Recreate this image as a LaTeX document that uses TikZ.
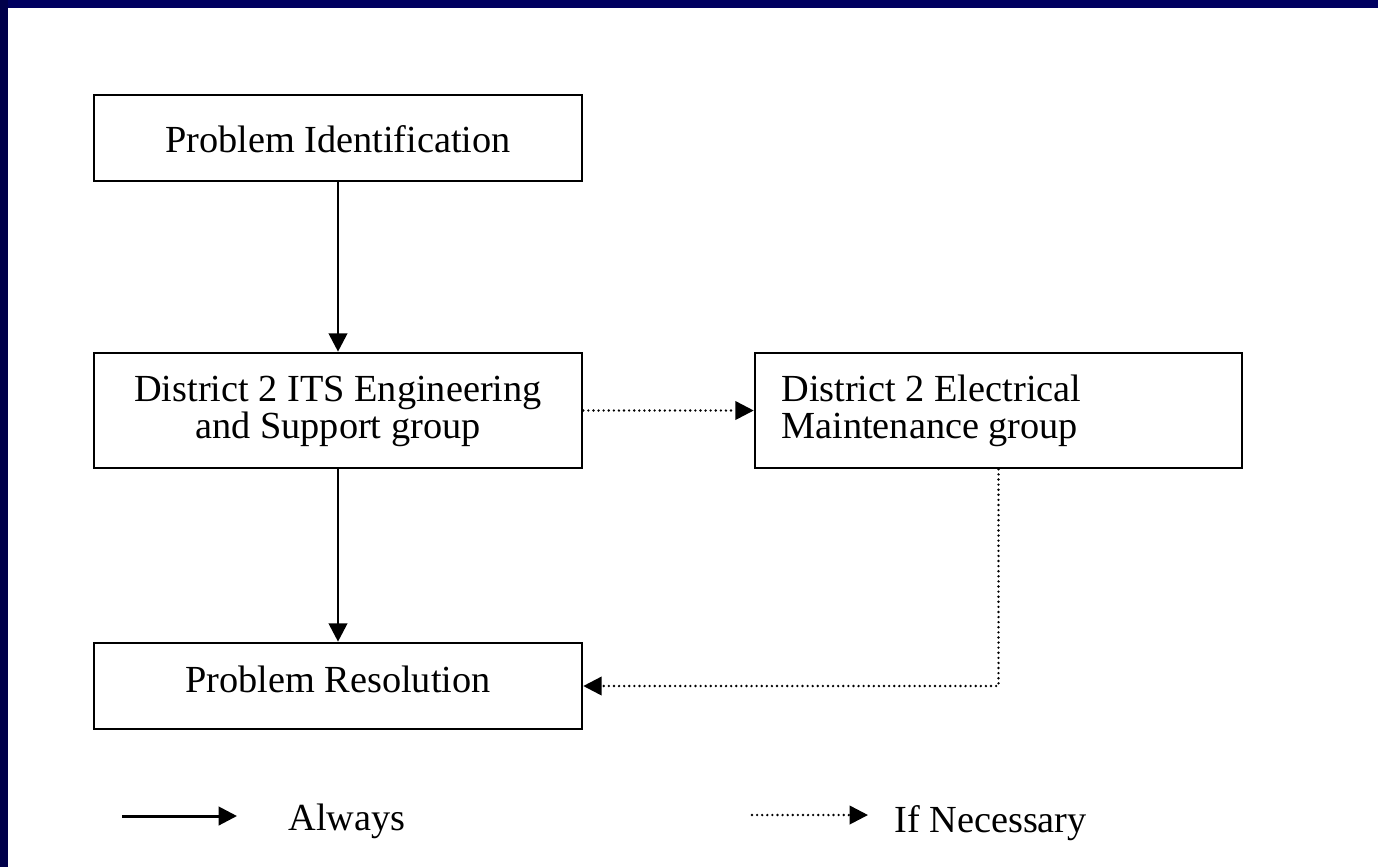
\documentclass[tikz,border=0pt]{standalone}
\usepackage{fontspec}
\setmainfont{Liberation Serif}
\usetikzlibrary{arrows.meta}
\definecolor{framenavy}{HTML}{000060}
\definecolor{sidenavy}{HTML}{00004A}

\begin{document}
\begin{tikzpicture}[x=0.02cm,y=-0.02cm,font=\fontsize{21.8}{20.5}\selectfont,
	box/.style={draw,line width=1.5pt,inner sep=0pt,minimum width=9.76cm},
	txt/.style={anchor=base,inner sep=0pt},
	always/.style={-{Triangle[length=10.5pt,width=10.5pt]},line width=1.7pt},
	ifneeded/.style={-{Triangle[length=10.5pt,width=10.5pt]},line width=1.5pt,
		line cap=round,dash pattern=on 0pt off 2.9pt}]
\useasboundingbox (0,0) rectangle (1378,867);
\fill[framenavy] (0,0) rectangle (1378,8);
\fill[sidenavy] (0,0) rectangle (8,867);
% boxes
\node[box,minimum height=1.72cm] (ident) at (338,138) {};
\node[box,minimum height=2.3cm] (its) at (338,410.5) {};
\node[box,minimum height=2.3cm,minimum width=9.74cm] (elec) at (998.5,410.5) {};
\node[box,minimum height=1.72cm] (resol) at (338,686) {};
\node[txt] (identtxt) at (338,152) {Problem Identification};
% base of a two-line node sits on its last line
\node[txt,align=center] (itstxt) at (338,438) {District 2 ITS Engineering\\and Support group};
\node[txt,align=left,anchor=base west] (electxt) at (781,438) {District 2 Electrical\\Maintenance group};
\node[txt] (resoltxt) at (338,692) {Problem Resolution};
% connectors
\draw[always] (ident) -- (its);
\draw[always] (its) -- (resol);
\draw[ifneeded] (its) -- (elec);
\draw[ifneeded] (elec) |- (resol);
% legend
\coordinate (alwaysA) at (122,816);
\coordinate (alwaysB) at (237,816);
\coordinate (neededA) at (752,815);
\coordinate (neededB) at (868,815);
\draw[always] (alwaysA) -- (alwaysB);
\draw[ifneeded] (neededA) -- (neededB);
\node[txt,anchor=base west] (alwaystxt) at (288,830) {Always};
\node[txt,anchor=base west] (neededtxt) at (894,832) {If Necessary};
\end{tikzpicture}
\end{document}
